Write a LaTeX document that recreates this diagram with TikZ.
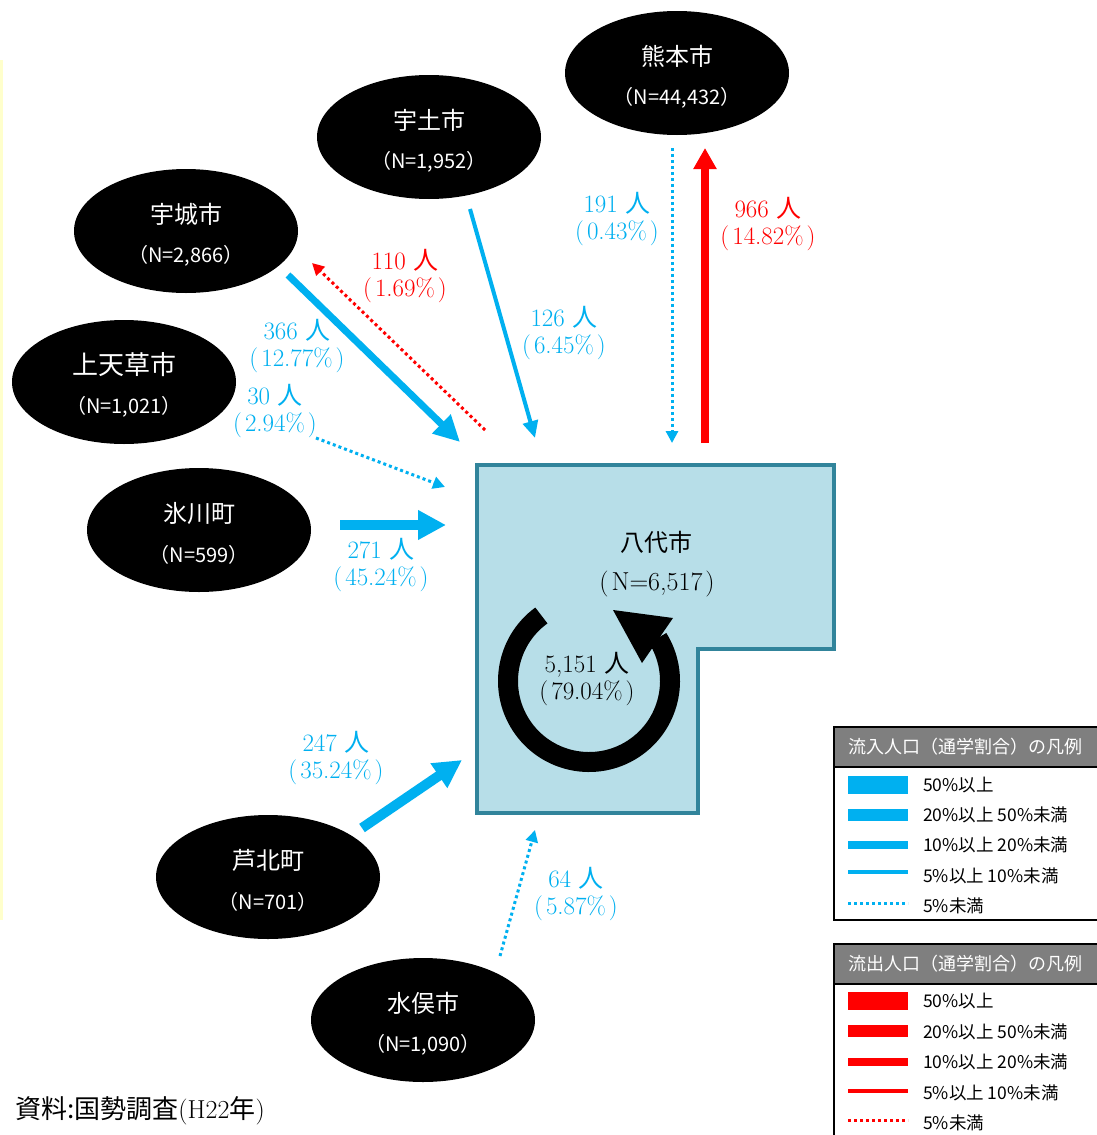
\documentclass[tikz,border=0pt]{standalone}
\usepackage{fontspec}
\usetikzlibrary{shapes.geometric,arrows.meta}
\newfontfamily\jp{Noto Sans CJK JP}
\definecolor{cy}{HTML}{00B0F0}
\definecolor{rd}{HTML}{FF0000}
\definecolor{polyfill}{HTML}{B7DEE8}
\definecolor{polyline}{HTML}{31849B}
\definecolor{hdr}{HTML}{7F7F7F}
\definecolor{ylw}{HTML}{FFFFCC}
\tikzset{
  city/.style={ellipse, fill=black, minimum width=224pt, minimum height=124pt, inner sep=0pt},
  cname/.style={text=white, font=\jp\fontsize{24}{26}\selectfont, inner sep=0pt},
  cnum/.style={text=white, font=\jp\fontsize{20}{22}\selectfont, inner sep=0pt},
  lab/.style={align=center, font=\fontsize{25}{27}\selectfont, inner sep=0pt},
  dotln/.style={line width=3pt, dash pattern=on 3pt off 3pt},
  smalltip/.style={-{Triangle[length=12pt,width=12pt]}},
  legtxt/.style={anchor=west, font=\jp\fontsize{17.5}{19}\selectfont, inner sep=0pt},
  hdrtxt/.style={anchor=west, text=white, font=\jp\fontsize{18}{20}\selectfont, inner sep=0pt}
}
\newcommand{\hito}{{\jp 人}}
\newcommand{\pp}[1]{(\kern3pt#1\kern3pt)}
\begin{document}
\begin{tikzpicture}[x=1pt,y=-1pt]
\useasboundingbox (0,0) rectangle (1097,1135);
\fill[white] (0,0) rectangle (1097,1135);
% yellow edge line
\fill[ylw] (0,60) rectangle (3,920);

% cities
\node[city] (kuma) at (677,73) {};
\node[cname] at ([yshift=17pt]kuma.center) {熊本市};
\node[cnum]  at ([yshift=-25pt]kuma.center) {（N=44,432）};
\node[city] (uto) at (429,137) {};
\node[cname] at ([yshift=17pt]uto.center) {宇土市};
\node[cnum]  at ([yshift=-25pt]uto.center) {（N=1,952）};
\node[city] (uki) at (186,231) {};
\node[cname] at ([yshift=17pt]uki.center) {宇城市};
\node[cnum]  at ([yshift=-25pt]uki.center) {（N=2,866）};
\node[city] (kami) at (124,382) {};
\node[cname, font=\jp\fontsize{26}{28}\selectfont] at ([yshift=17pt]kami.center) {上天草市};
\node[cnum]  at ([yshift=-25pt]kami.center) {（N=1,021）};
\node[city] (hika) at (199,530) {};
\node[cname] at ([yshift=17pt]hika.center) {氷川町};
\node[cnum]  at ([yshift=-25pt]hika.center) {（N=599）};
\node[city] (ashi) at (268,877) {};
\node[cname] at ([yshift=17pt]ashi.center) {芦北町};
\node[cnum]  at ([yshift=-25pt]ashi.center) {（N=701）};
\node[city] (mina) at (423,1020) {};
\node[cname] at ([yshift=17pt]mina.center) {水俣市};
\node[cnum]  at ([yshift=-25pt]mina.center) {（N=1,090）};

% Yatsushiro polygon
\draw[fill=polyfill, draw=polyline, line width=4pt]
  (477,465) -- (834,465) -- (834,649) -- (698,649) -- (698,813) -- (477,813) -- cycle;
\node[font=\jp\fontsize{24}{26}\selectfont, inner sep=0pt] (yatsu) at (656,542) {八代市};
\node[font=\fontsize{26}{28}\selectfont, inner sep=0pt] at (657,584) {\pp{N=6,517}};

% circular arrow
\coordinate (cc) at (589,681);
\draw[line width=20pt] (cc) ++(-126:81) arc[start angle=-126, end angle=-392, radius=81];
\fill[black] (613,610) -- (673,618) -- (642,663) -- cycle;
\node[lab] at (587,679) {5,151 \hito\\\pp{79.04\%}};

% connector end points
\coordinate (kuma-in-s) at (672,148);
\coordinate (kuma-in-e) at (672,443);
\coordinate (kuma-out-s) at (705,443);
\coordinate (kuma-out-e) at (705,148);
\coordinate (uto-s) at (470,209);
\coordinate (uto-e) at (535,438);
\coordinate (uki-in-s) at (288,275);
\coordinate (uki-in-e) at (460,442);
\coordinate (uki-out-s) at (485,430);
\coordinate (uki-out-e) at (312,263);
\coordinate (kami-s) at (316,438);
\coordinate (kami-e) at (445,487);
\coordinate (hika-s) at (340,525);
\coordinate (hika-e) at (446,525);
\coordinate (ashi-s) at (362,828);
\coordinate (ashi-e) at (462,760);
\coordinate (mina-s) at (500,956);
\coordinate (mina-e) at (535,830);

% connectors
\draw[cy, dotln, smalltip] (kuma-in-s) -- (kuma-in-e);
\draw[rd, line width=8pt, -{Triangle[length=21pt,width=22pt]}] (kuma-out-s) -- (kuma-out-e);
\draw[cy, line width=4pt, -{Triangle[length=17pt,width=15pt]}] (uto-s) -- (uto-e);
\draw[cy, line width=7pt, -{Triangle[length=26pt,width=25pt]}] (uki-in-s) -- (uki-in-e);
\draw[rd, dotln, smalltip] (uki-out-s) -- (uki-out-e);
\draw[cy, dotln, smalltip] (kami-s) -- (kami-e);
\draw[cy, line width=10pt, -{Triangle[length=28pt,width=28pt]}] (hika-s) -- (hika-e);
\draw[cy, line width=10pt, -{Triangle[length=28pt,width=28pt]}] (ashi-s) -- (ashi-e);
\draw[cy, dotln, smalltip] (mina-s) -- (mina-e);

% labels
\node[lab, text=cy] at (617,219) {191 \hito\\\pp{0.43\%}};
\node[lab, text=rd] at (768,224) {966 \hito\\\pp{14.82\%}};
\node[lab, text=cy] at (564,333) {126 \hito\\\pp{6.45\%}};
\node[lab, text=cy] at (297,346) {366 \hito\\\pp{12.77\%}};
\node[lab, text=rd] at (405,276) {110 \hito\\\pp{1.69\%}};
\node[lab, text=cy] at (275,411) {30 \hito\\\pp{2.94\%}};
\node[lab, text=cy] at (381,565) {271 \hito\\\pp{45.24\%}};
\node[lab, text=cy] at (336,758) {247 \hito\\\pp{35.24\%}};
\node[lab, text=cy] at (576,894) {64 \hito\\\pp{5.87\%}};

% legend inflow
\draw[line width=2pt, fill=white] (834,727) rectangle (1110,920);
\draw[line width=2pt, fill=hdr] (834,727) rectangle (1110,767);
\node[hdrtxt] at (848,747) {流入人口（通学割合）の凡例};
\fill[cy] (848,776) rectangle (908,794);
\fill[cy] (848,809) rectangle (908,821);
\fill[cy] (848,841) rectangle (908,849);
\fill[cy] (848,870) rectangle (908,874);
\draw[cy, dotln] (848,903) -- (908,903);
\node[legtxt] at (923,785) {50\%以上};
\node[legtxt] at (923,815) {20\%以上 50\%未満};
\node[legtxt] at (923,845) {10\%以上 20\%未満};
\node[legtxt] at (923,876) {5\%以上 10\%未満};
\node[legtxt] at (923,906) {5\%未満};

% legend outflow
\draw[line width=2pt, fill=white] (834,944) rectangle (1110,1150);
\draw[line width=2pt, fill=hdr] (834,944) rectangle (1110,984);
\node[hdrtxt] at (848,964) {流出人口（通学割合）の凡例};
\fill[rd] (848,992) rectangle (908,1010);
\fill[rd] (848,1025) rectangle (908,1037);
\fill[rd] (848,1058) rectangle (908,1066);
\fill[rd] (848,1089) rectangle (908,1093);
\draw[rd, dotln] (848,1120) -- (908,1120);
\node[legtxt] at (923,1001) {50\%以上};
\node[legtxt] at (923,1032) {20\%以上 50\%未満};
\node[legtxt] at (923,1062) {10\%以上 20\%未満};
\node[legtxt] at (923,1093) {5\%以上 10\%未満};
\node[legtxt] at (923,1123) {5\%未満};

% source
\node[anchor=west, inner sep=0pt, font=\fontsize{26}{28}\selectfont] (src) at (15,1111) {{\jp 資料:国勢調査}(H22{\jp 年})};
\end{tikzpicture}
\end{document}
